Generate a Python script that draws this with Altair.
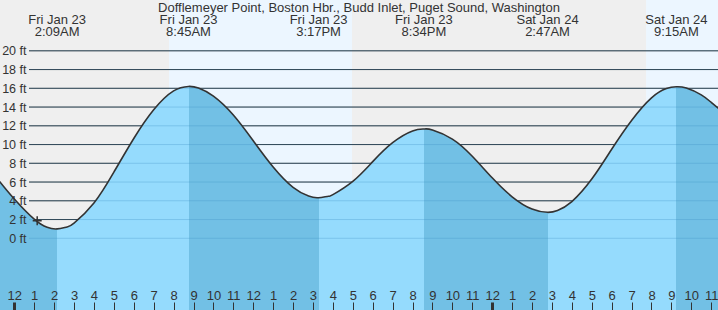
import altair as alt
import pandas as pd

# ---------------- data ----------------
title_text = "Dofflemeyer Point, Boston Hbr., Budd Inlet, Puget Sound, Washington"

# hours since midnight Fri Jan 23, water level in ft
hours = [-0.75, 0, 1, 1.65, 2.15, 2.65, 3, 4, 5, 6, 7, 8, 8.75, 9.25, 10, 11, 12, 13, 14,
         14.78, 15.28, 15.78, 16, 17, 18, 19, 20, 20.57, 21, 22, 23, 24, 25, 26, 26.78,
         27.28, 28, 29, 30, 31, 32, 32.75, 33.25, 33.75, 34.5, 35, 35.4]
heights = [6.1, 4.2, 2.05, 1.17, 1.0, 1.21, 1.61, 3.76, 7.05, 10.65, 13.71, 15.72, 16.2,
           16.03, 15.16, 13.15, 10.4, 7.6, 5.43, 4.5, 4.33, 4.49, 4.66, 6.08, 8.18, 10.2,
           11.45, 11.66, 11.56, 10.58, 8.75, 6.45, 4.43, 3.12, 2.77, 2.97, 3.92, 6.32, 9.5,
           12.57, 14.98, 15.97, 16.17, 16.03, 15.3, 14.5, 13.8]

ext_hours = [2.15, 8.75, 15.28, 20.57, 26.78, 33.25]
ext_dates = ["Fri Jan 23", "Fri Jan 23", "Fri Jan 23", "Fri Jan 23", "Sat Jan 24", "Sat Jan 24"]
ext_times = ["2:09AM", "8:45AM", "3:17PM", "8:34PM", "2:47AM", "9:15AM"]

day_start = [7.77, 31.73]
day_end = [16.96, 36.0]

grid_ft = [0, 2, 4, 6, 8, 10, 12, 14, 16, 18, 20]
hour_ticks = list(range(0, 36))

now_hour = [1.15]
now_ft = [1.88]

# ---------------- styling ----------------
FONT = "Liberation Sans"
TXT = "#333333"
NIGHT = "#efefef"
DAY = "#ecf6ff"
RISE = "#95dbfd"
FALL = "#72c0e5"
W, H = 718, 310
Y_MIN, Y_MAX = -7.65, 25.42

series = pd.DataFrame({"h": hours, "ft": heights})
days = pd.DataFrame({"s": day_start, "e": day_end})
grid = pd.DataFrame({"v": grid_ft})
ext = pd.DataFrame({"h": ext_hours, "d": ext_dates, "t": ext_times})
now = pd.DataFrame({"h": now_hour, "ft": now_ft})

# gradient fill: falling tide darker, rising tide lighter (hard stops at extremes)
h0, h1 = hours[0], hours[-1]
stops = []
cols = [FALL, RISE]
cur = 0
stops.append(alt.GradientStop(color=cols[cur], offset=0))
for eh in ext_hours:
    off = (eh - h0) / (h1 - h0)
    stops.append(alt.GradientStop(color=cols[cur], offset=off))
    cur = 1 - cur
    stops.append(alt.GradientStop(color=cols[cur], offset=off))
stops.append(alt.GradientStop(color=cols[cur], offset=1))
water = alt.Gradient(gradient="linear", stops=stops, x1=0, x2=1, y1=0, y2=0)

xs = alt.Scale(domain=[-0.718, 35.34], nice=False, zero=False)
ys = alt.Scale(domain=[Y_MIN, Y_MAX], nice=False, zero=False)

x_axis = alt.Axis(
    values=hour_ticks,
    labelExpr="datum.value % 12 == 0 ? '12' : '' + (datum.value % 12)",
    orient="bottom", offset=-8, tickSize=8, tickColor=TXT,
    tickWidth={"condition": {"test": "datum.value % 24 == 0", "value": 3}, "value": 1},
    domain=False, grid=False, labelPadding=-11, labelBaseline="alphabetic",
    labelFontSize=13, labelFont=FONT, labelColor=TXT, title=None, zindex=1,
    labelOverlap=False, labelFlush=False,
)
y_axis = alt.Axis(
    values=grid_ft, labelExpr="datum.value + ' ft'", orient="left", offset=-29,
    ticks=False, domain=False, grid=False, labelPadding=3, labelFontSize=12.5,
    labelFont=FONT, labelColor=TXT, title=None, zindex=1,
)

def X(f):
    return alt.X(f, type="quantitative", scale=xs, axis=x_axis)

def Y(f, **kw):
    return alt.Y(f, type="quantitative", scale=ys, axis=y_axis, **kw)

day_layer = alt.Chart(days).mark_rect(color=DAY).encode(
    x=X("s"), x2="e", y=alt.value(0), y2=alt.value(H)
)

grid_dark = alt.Chart(grid).mark_rule(color="#2b2b2b", strokeWidth=1).encode(
    y=Y("v"), x=alt.value(29), x2=alt.value(W)
)

area = alt.Chart(series).mark_area(interpolate="natural", clip=True, color=water).encode(
    x=X("h"), y=Y("ft", stack=None), y2=alt.value(H)
)

grid_faint = alt.Chart(grid).mark_rule(color="#3b8fc4", strokeWidth=1, opacity=0.3).encode(
    y=Y("v"), x=alt.value(29), x2=alt.value(W)
)

line = alt.Chart(series).mark_line(interpolate="natural", color="#333333", strokeWidth=1.6, clip=True).encode(
    x=X("h"), y=Y("ft")
)

marker = alt.Chart(now).mark_point(
    shape="M-1,0L1,0M0,-1L0,1", size=81, stroke="#333333", strokeWidth=1.5, filled=False, opacity=1
).encode(x=X("h"), y=Y("ft"))

lab_date = alt.Chart(ext).mark_text(font=FONT, fontSize=13, color=TXT, baseline="alphabetic", align="center").encode(
    x=X("h"), y=alt.value(24), text="d:N"
)
lab_time = alt.Chart(ext).mark_text(font=FONT, fontSize=13, color=TXT, baseline="alphabetic", align="center").encode(
    x=X("h"), y=alt.value(36), text="t:N"
)

title = alt.Chart(pd.DataFrame({"t": [title_text]})).mark_text(
    font=FONT, fontSize=13, color=TXT, baseline="alphabetic", align="center"
).encode(x=alt.value(359), y=alt.value(12), text="t:N")

chart = alt.layer(
    day_layer, grid_dark, area, grid_faint, line, marker, lab_date, lab_time, title
).properties(
    width=W, height=H, padding=0, autosize=alt.AutoSizeParams(type="none")
).configure_view(fill=NIGHT, stroke=None)

chart.save("out.html", embed_options={"renderer": "svg", "actions": False})
